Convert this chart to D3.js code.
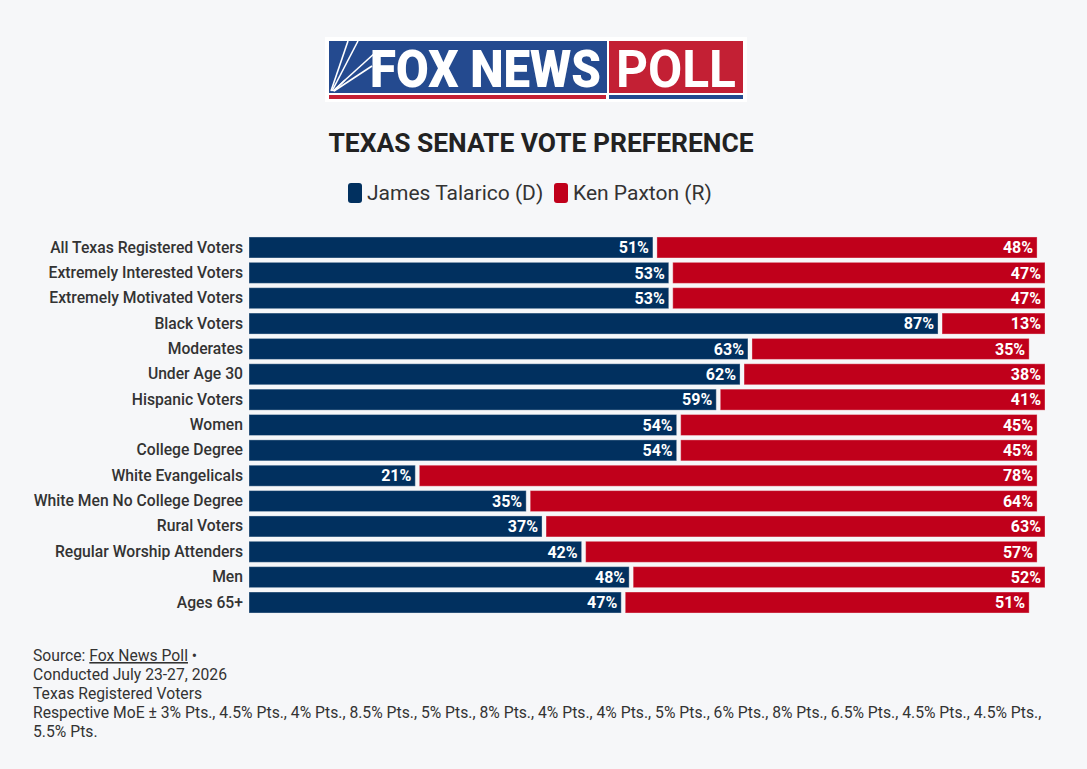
<!DOCTYPE html>
<html><head><meta charset="utf-8">
<script src="https://cdn.jsdelivr.net/npm/d3@7"></script>
<style>
html,body{margin:0;padding:0;background:#f6f7f9;}
svg{display:block;font-family:Roboto, "Noto Sans", sans-serif;}
</style></head>
<body>
<script>
const categories = ["All Texas Registered Voters","Extremely Interested Voters","Extremely Motivated Voters","Black Voters","Moderates","Under Age 30","Hispanic Voters","Women","College Degree","White Evangelicals","White Men No College Degree","Rural Voters","Regular Worship Attenders","Men","Ages 65+"];
const talarico = [51,53,53,87,63,62,59,54,54,21,35,37,42,48,47];
const paxton   = [48,47,47,13,35,38,41,45,45,78,64,63,57,52,51];
const seriesNames = ["James Talarico (D)","Ken Paxton (R)"];
const seriesColors = ["#01305f","#c0001b"];
const title = "TEXAS SENATE VOTE PREFERENCE";
const footerLines = ["Conducted July 23-27, 2026","Texas Registered Voters","Respective MoE ± 3% Pts., 4.5% Pts., 4% Pts., 8.5% Pts., 5% Pts., 8% Pts., 4% Pts., 4% Pts., 5% Pts., 6% Pts., 8% Pts., 6.5% Pts., 4.5% Pts., 4.5% Pts.,","5.5% Pts."];

const W = 1087, H = 769;
const svg = d3.select("body").append("svg").attr("width", W).attr("height", H);
svg.append("rect").attr("width", W).attr("height", H).attr("fill", "#f6f7f9");

// Logo
const logo = svg.append("g");
logo.append("rect").attr("x",325).attr("y",37).attr("width",422).attr("height",65).attr("fill","#ffffff");
logo.append("rect").attr("x",329).attr("y",41).attr("width",278).attr("height",52).attr("fill","#244a8f");
logo.append("rect").attr("x",609).attr("y",41).attr("width",134).attr("height",52).attr("fill","#c32034");
logo.append("rect").attr("x",329).attr("y",95).attr("width",277).attr("height",4).attr("fill","#c32034");
logo.append("rect").attr("x",609).attr("y",95).attr("width",134).attr("height",4).attr("fill","#244a8f");
// searchlight beams
const beams = [[331,91,348,41],[332,91,358,41],[333,91,376,52],[334,91,372,66],[334,91,345,80]];
beams.forEach(b=>logo.append("line").attr("x1",b[0]).attr("y1",b[1]).attr("x2",b[2]).attr("y2",b[3]).attr("stroke","#fff").attr("stroke-width",1.6));
logo.append("text").attr("x",370).attr("y",87).attr("fill","#fff").attr("font-size",52).attr("font-weight",900)
  .attr("textLength",231).attr("lengthAdjust","spacingAndGlyphs").text("FOX NEWS");
logo.append("text").attr("x",616).attr("y",87).attr("fill","#fff").attr("font-size",52).attr("font-weight",700)
  .attr("textLength",120).attr("lengthAdjust","spacingAndGlyphs").text("POLL");

// Title
svg.append("text").attr("x",541).attr("y",152).attr("text-anchor","middle").attr("font-size",26.4).attr("font-weight",700)
  .attr("fill","#222").text(title);

// Legend
const legendPos = [[348,367],[554,573]];
seriesNames.forEach((n,i)=>{
  svg.append("rect").attr("x",legendPos[i][0]).attr("y",183).attr("width",14).attr("height",20).attr("rx",3).attr("fill",seriesColors[i]);
  svg.append("text").attr("x",legendPos[i][1]).attr("y",200).attr("font-size",21).attr("fill","#333").text(n);
});

// Chart
const x = d3.scaleLinear().domain([0,100]).range([249, 249+792]);
const y = d3.scaleBand().domain(categories).range([234.8, 615.2]).paddingInner(0.172).paddingOuter(0.086);
const gap = 4;
const rows = categories.map((c,i)=>({c, d:talarico[i], r:paxton[i]}));

const g = svg.append("g");
const row = g.selectAll("g.row").data(rows).join("g").attr("class","row");
row.append("rect").attr("x",d=>x(0)).attr("y",d=>y(d.c)).attr("width",d=>x(d.d)-x(0)).attr("height",y.bandwidth())
  .attr("fill",seriesColors[0]).attr("stroke","rgba(255,255,255,0.35)").attr("stroke-width",1);
row.append("rect").attr("x",d=>x(d.d)+gap).attr("y",d=>y(d.c)).attr("width",d=>x(d.d+d.r)-x(d.d)).attr("height",y.bandwidth())
  .attr("fill",seriesColors[1]).attr("stroke","rgba(255,255,255,0.35)").attr("stroke-width",1);
row.append("text").attr("x",d=>x(d.d)-4).attr("y",d=>y(d.c)+y.bandwidth()/2).attr("dy","0.36em").attr("text-anchor","end")
  .attr("fill","#fff").attr("font-size",16).attr("font-weight",700).text(d=>d.d+"%");
row.append("text").attr("x",d=>x(d.d+d.r)+gap-4).attr("y",d=>y(d.c)+y.bandwidth()/2).attr("dy","0.36em").attr("text-anchor","end")
  .attr("fill","#fff").attr("font-size",16).attr("font-weight",700).text(d=>d.r+"%");

// category axis
const yAxis = d3.axisLeft(y).tickSize(0).tickPadding(6);
const ax = svg.append("g").attr("transform",`translate(${x(0)},0)`).call(yAxis);
ax.select(".domain").remove();
ax.selectAll("text").attr("font-family","Roboto, sans-serif").attr("font-size",15.7).attr("font-weight",500).attr("fill","#333");

// Footer
const ft = svg.append("text").attr("x",33).attr("y",661).attr("font-size",15.7).attr("fill","#333");
ft.append("tspan").text("Source: ");
ft.append("tspan").attr("text-decoration","underline").text("Fox News Poll");
ft.append("tspan").text(" •");
footerLines.forEach((l,i)=>{
  svg.append("text").attr("x",33).attr("y",680+i*19).attr("font-size",15.7).attr("fill","#333").text(l);
});
</script>
</body></html>
